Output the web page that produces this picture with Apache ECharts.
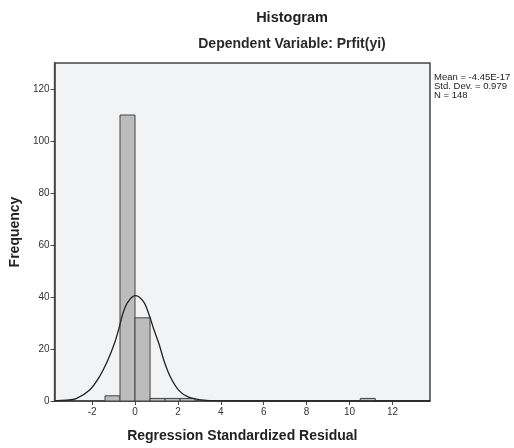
<!DOCTYPE html>
<html>
<head>
<meta charset="utf-8">
<script src="https://cdn.jsdelivr.net/npm/echarts@6/dist/echarts.min.js"></script>
<style>
  html, body { margin: 0; padding: 0; background: #fff; }
  #chart { width: 514px; height: 448px; }
</style>
</head>
<body>
<div id="chart"></div>
<script>
// histogram bins (lower edge, upper edge, count)
const binStart = [-1.4, -0.7, 0, 0.7, 1.4, 2.1, 10.5];
const binEnd = [-0.7, 0, 0.7, 1.4, 2.1, 2.8, 11.2];
const counts = [2, 110, 32, 1, 1, 1, 1];

// normal curve
const curveX = [-3.75, -3.2, -2.74, -2.13, -1.67, -1.28, -0.97, -0.74, -0.58, -0.35, 0, 0.38, 0.65, 0.85, 1.12, 1.35, 1.65, 2.04, 2.5, 3.2, 4, 5, 13.75];
const curveY = [0.05, 0.3, 0.9, 4.1, 9.2, 15.5, 21.9, 28.2, 33.3, 37.8, 40.5, 38.4, 33.3, 28.2, 21.9, 15.5, 9.2, 4.1, 1.5, 0.3, 0.05, 0, 0];

const xTicks = [-2, 0, 2, 4, 6, 8, 10, 12];
const yTicks = [0, 20, 40, 60, 80, 100, 120];

const statLines = ['Mean = -4.45E-17', 'Std. Dev. = 0.979', 'N = 148'];

const myChart = echarts.init(document.getElementById('chart'));

const barData = binStart.map((s, i) => [s, binEnd[i], counts[i]]);
const lineData = curveX.map((x, i) => [x, curveY[i]]);

const option = {
    animation: false,
    textStyle: { fontFamily: 'Liberation Sans, Arial, sans-serif' },
    title: [
        {
            text: 'Histogram',
            left: 287,
            top: 5,
            textAlign: 'center',
            textStyle: { fontSize: 14.5, fontWeight: 'bold', color: '#222' },
        },
        {
            text: 'Dependent Variable: Prfit(yi)',
            left: 287,
            top: 32,
            textAlign: 'center',
            textStyle: { fontSize: 14, fontWeight: 'bold', color: '#2a2a2a' },
        },
    ],
    grid: {
        left: 52,
        right: 84,
        top: 63,
        bottom: 44,
        show: true,
        backgroundColor: '#f1f3f5',
        borderColor: '#444',
        borderWidth: 1.5,
    },
    xAxis: {
        type: 'value',
        min: -3.75,
        max: 13.75,
        name: 'Regression Standardized Residual',
        nameLocation: 'middle',
        nameGap: 28,
        nameTextStyle: { fontSize: 14, fontWeight: 'bold', color: '#222' },
        axisLine: { show: true, onZero: false, lineStyle: { color: '#444', width: 1.5 } },
        axisTick: { show: true, length: 4, customValues: xTicks, lineStyle: { color: '#444' } },
        axisLabel: { customValues: xTicks, fontSize: 10, color: '#333', margin: 6 },
        splitLine: { show: false },
    },
    yAxis: {
        type: 'value',
        min: 0,
        max: 130,
        name: 'Frequency',
        nameLocation: 'middle',
        nameGap: 32,
        nameTextStyle: { fontSize: 14, fontWeight: 'bold', color: '#222' },
        axisLine: { show: true, onZero: false, lineStyle: { color: '#444', width: 1.5 } },
        axisTick: { show: true, length: 4, customValues: yTicks, lineStyle: { color: '#444' } },
        axisLabel: { customValues: yTicks, fontSize: 10, color: '#333', margin: 5 },
        splitLine: { show: false },
    },
    graphic: statLines.map((t, i) => ({
        type: 'text',
        left: 434,
        top: 72 + i * 9,
        style: { text: t, fontSize: 9.5, fill: '#222', fontFamily: 'Liberation Sans, Arial, sans-serif' },
    })),
    series: [
        {
            type: 'custom',
            data: barData,
            renderItem: (params, api) => {
                const p0 = api.coord([api.value(0), api.value(2)]);
                const p1 = api.coord([api.value(1), 0]);
                return {
                    type: 'rect',
                    shape: { x: p0[0], y: p0[1], width: p1[0] - p0[0], height: p1[1] - p0[1] },
                    style: { fill: '#bcbcbc', stroke: '#444', lineWidth: 1 },
                };
            },
            encode: { x: [0, 1], y: 2 },
            z: 2,
        },
        {
            type: 'line',
            data: lineData,
            smooth: 0.35,
            symbol: 'none',
            lineStyle: { color: '#222', width: 1.3 },
            z: 3,
        },
    ],
};

myChart.setOption(option);
</script>
</body>
</html>
